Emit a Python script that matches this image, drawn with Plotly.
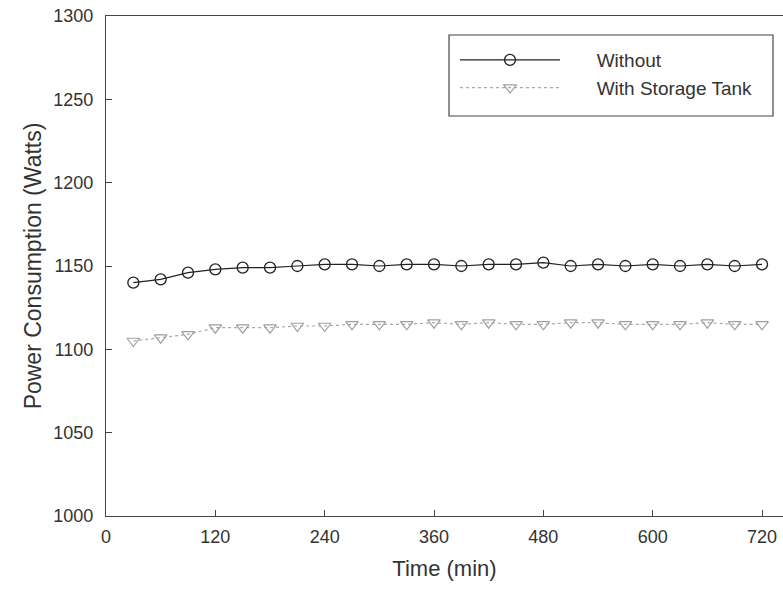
import plotly.graph_objects as go

time_min = [30, 60, 90, 120, 150, 180, 210, 240, 270, 300, 330, 360,
            390, 420, 450, 480, 510, 540, 570, 600, 630, 660, 690, 720]
without = [1140, 1142, 1146, 1148, 1149, 1149, 1150, 1151, 1151, 1150, 1151, 1151,
           1150, 1151, 1151, 1152, 1150, 1151, 1150, 1151, 1150, 1151, 1150, 1151]
with_tank = [1105, 1107, 1109, 1113, 1113, 1113, 1114, 1114, 1115, 1115, 1115, 1116,
             1115, 1116, 1115, 1115, 1116, 1116, 1115, 1115, 1115, 1116, 1115, 1115]
x_ticks = [0, 120, 240, 360, 480, 600, 720]
y_ticks = [1000, 1050, 1100, 1150, 1200, 1250, 1300]
series_names = ["Without", "With Storage Tank"]

font_family = "Liberation Sans, Arial, sans-serif"
pad = "\u00a0" * 6

fig = go.Figure()
fig.add_trace(go.Scatter(
    x=time_min, y=without, name=pad + series_names[0], mode="lines+markers",
    line=dict(color="#222", width=1.2),
    marker=dict(symbol="circle-open", size=11, color="#222", line=dict(width=1.3)),
))
fig.add_trace(go.Scatter(
    x=time_min, y=with_tank, name=pad + series_names[1], mode="lines+markers",
    line=dict(color="#a8a8a8", width=1.2, dash="dot"),
    marker=dict(symbol="triangle-down-open", size=11, color="#a0a0a0", line=dict(width=1.2)),
))

# legend frame
fig.add_shape(type="rect", xref="paper", yref="paper",
              x0=(449 - 106) / 677, x1=(773 - 106) / 677,
              y0=(516 - 116) / 500, y1=(516 - 35) / 500,
              line=dict(color="#444", width=1.2), fillcolor="rgba(0,0,0,0)")

fig.update_layout(
    width=783, height=593,
    margin=dict(l=106, r=0, t=16, b=77),
    paper_bgcolor="white", plot_bgcolor="white",
    font=dict(family=font_family, color="#333", size=18),
    showlegend=True,
    legend=dict(x=(455 - 106) / 677, y=(516 - 41) / 500, xanchor="left", yanchor="top",
                bgcolor="rgba(0,0,0,0)", borderwidth=0, itemwidth=100,
                font=dict(size=19, family=font_family, color="#333")),
    xaxis=dict(range=[0, 743], tickvals=x_ticks, ticks="inside", ticklen=6,
               tickcolor="#444", showline=True, linecolor="#444", linewidth=1.3,
               mirror=True, showgrid=False, zeroline=False,
               tickfont=dict(size=18), ticklabelstandoff=4,
               title=dict(text="Time (min)", font=dict(size=22), standoff=14)),
    yaxis=dict(range=[1000, 1300], tickvals=y_ticks, ticks="inside", ticklen=6,
               tickcolor="#444", showline=True, linecolor="#444", linewidth=1.3,
               showgrid=False, zeroline=False,
               tickfont=dict(size=18), ticklabelstandoff=8,
               title=dict(text="Power Consumption (Watts)", font=dict(size=23), standoff=5)),
)

fig.write_html("out.html")
